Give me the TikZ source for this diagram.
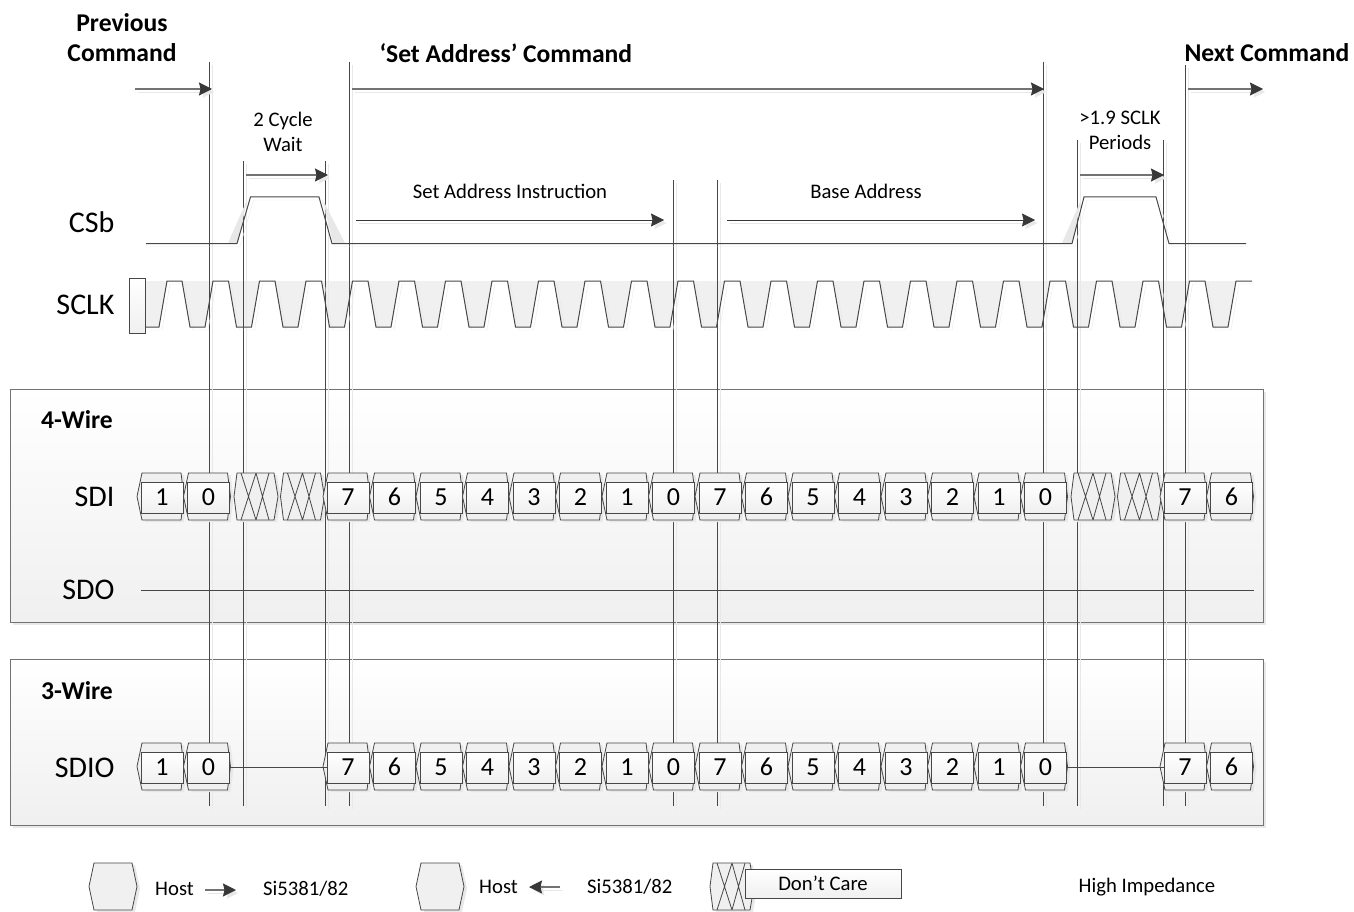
\documentclass[tikz,border=0pt]{standalone}
\usepackage{fontspec}
\usepackage{xcolor}
\usetikzlibrary{arrows.meta}
\setmainfont{Carlito}
\colorlet{lineGray}{black!72}
\colorlet{shadowGray}{black!9}
\colorlet{wellGray}{black!6}

% one data cell: center x, center y, name, text
\newcommand{\bitcell}[4]{
  \path[hexa] ({#1-25},#2) -- ({#1-20},{#2-23.5}) -- ({#1+19},{#2-23.5}) -- ({#1+22},#2)
    -- ({#1+19},{#2+23.5}) -- ({#1-20},{#2+23.5}) -- cycle;
  \node[bitbox] (#3) at (#1,{#2+1}) {#4};
}
% one hatched cell: center x, center y
\newcommand{\xcell}[2]{
  \path[hexa] ({#1-21},#2) -- ({#1-18},{#2-23.5}) -- ({#1+19},{#2-23.5}) -- ({#1+23},#2)
    -- ({#1+19},{#2+23.5}) -- ({#1-18},{#2+23.5}) -- cycle;
  \draw[thin line]
    ({#1-14},{#2-23.5}) -- ({#1+1},{#2+23.5}) ({#1+1},{#2-23.5}) -- ({#1-14},{#2+23.5})
    ({#1+1},{#2-23.5}) -- ({#1+14},{#2+23.5}) ({#1+14},{#2-23.5}) -- ({#1+1},{#2+23.5});
}

\begin{document}
\begin{tikzpicture}[
    x=1pt, y=-1pt,
    thin line/.style={draw=lineGray, line width=0.8pt},
    wave/.style={thin line, line width=1pt,
        preaction={draw=shadowGray, transform canvas={xshift=3pt, yshift=-3pt}}},
    arr/.style={draw=black!55, line width=1.3pt, -{Stealth[length=13pt, width=13pt, inset=1.5pt, black!78]},
        preaction={draw=shadowGray, -{Stealth[length=13pt, width=13pt, inset=1.5pt, shadowGray]},
          transform canvas={xshift=3pt, yshift=-3pt}}},
    arrthin/.style={arr, draw=black!78, line width=0.9pt},
    marker/.style={wave},
    panel/.style={draw=black!55, line width=1pt, top color=white, bottom color=black!6,
        preaction={fill=shadowGray, transform canvas={xshift=3pt, yshift=-3pt}}},
    hexa/.style={draw=lineGray, line width=0.8pt, fill=wellGray,
        preaction={fill=shadowGray, transform canvas={xshift=3pt, yshift=-2pt}}},
    bitbox/.style={rectangle, draw=lineGray, line width=0.8pt, top color=white, bottom color=black!6,
        minimum width=42pt, minimum height=31pt, inner sep=0pt, text height=16pt, text depth=0pt,
        font=\fontsize{26}{26}\selectfont},
    head/.style={font=\fontsize{25.6}{30}\selectfont\bfseries, align=center},
    sig/.style={font=\fontsize{30}{30}\selectfont},
    note/.style={font=\fontsize{20.7}{25}\selectfont, align=center},
  ]
  \useasboundingbox (0,0) rectangle (1354,912);

  % panels
  \path[panel] (10,389) rectangle (1263,622);
  \path[panel] (10,659) rectangle (1263,825);

  % clock wells
  \fill[wellGray] (146,281) -- (146,327) -- (159,327) -- (167,281) -- cycle;
  \foreach \k in {0,...,22}
    \fill[wellGray] ({182+46.5*\k},281) -- ({190+46.5*\k},327) -- ({205+46.5*\k},327) -- ({213+46.5*\k},281) -- cycle;

  % markers
  \foreach \name/\mx/\mtop in {a/209/62, b/243/161, c/325/161, d/349/62, e/673/180, f/717/180, g/1043/62, h/1077/140, i/1163/140, j/1185/65} {
    \coordinate (top\name) at (\mx,\mtop);
    \coordinate (bot\name) at (\mx,806);
    \draw[marker] (top\name) -- (bot\name);
  }

  % CSb
  \fill[shadowGray] (228,243) -- (247,200) -- (238,243) -- cycle;
  \fill[shadowGray] (323,200) -- (345,243) -- (333,243) -- cycle;
  \fill[shadowGray] (1062,243) -- (1081,200) -- (1073,243) -- cycle;
  \draw[wave] (146,243.5) -- (237,243.5) -- (250.5,197) -- (319,197) -- (332,243.5) -- (1072,243.5)
    -- (1084,197) -- (1156,197) -- (1169,243.5) -- (1246,243.5);

  % SCLK
  \node[rectangle, draw=lineGray, line width=0.8pt, top color=white, bottom color=black!6,
    minimum width=16pt, minimum height=55pt, inner sep=0pt] (clkbox) at (137,306) {};
  \draw[wave] (clkbox.east |- 0,327) -- (159,327) -- (167,281)
    \foreach \k in {0,...,22} {
      -- ({182+46.5*\k},281) -- ({190+46.5*\k},327) -- ({205+46.5*\k},327) -- ({213+46.5*\k},281)
    } -- (1252,281);

  % SDO and high impedance lines
  \coordinate (sdoA) at (141,590);
  \coordinate (sdoB) at (1254,590);
  \draw[thin line, line width=1pt] (sdoA) -- (sdoB);

  % data cells
  \foreach \n/\t [count=\i from 0] in {1/1, 0/0, x/x, y/y, 7/7, 6/6, 5/5, 4/4, 3/3, 2/2, 1/1, 0/0, 7/7, 6/6, 5/5, 4/4, 3/3, 2/2, 1/1, 0/0, x/x, y/y, 7/7, 6/6} {
    \pgfmathsetmacro{\cx}{162+46.5*\i}
    \ifnum\i=2 \xcell{\cx}{496.5}
    \else\ifnum\i=3 \xcell{\cx}{496.5}
    \else\ifnum\i=20 \xcell{\cx}{496.5}
    \else\ifnum\i=21 \xcell{\cx}{496.5}
    \else
      \bitcell{\cx}{496.5}{sdi\i}{\t}
      \bitcell{\cx}{766.5}{sdio\i}{\t}
    \fi\fi\fi\fi
  }
  \draw[thin line, line width=1pt] (sdio1.east) -- (sdio4.west);
  \draw[thin line, line width=1pt] (sdio19.east) -- (sdio22.west);

  % arrows
  \coordinate (prevA) at (135,89);   \coordinate (prevB) at (212,89);
  \coordinate (setA) at (352,89);    \coordinate (setB) at (1044,89);
  \coordinate (nextA) at (1188,89);  \coordinate (nextB) at (1263,89);
  \coordinate (waitA) at (246,175);  \coordinate (waitB) at (328,175);
  \coordinate (instA) at (356,220);  \coordinate (instB) at (664,220);
  \coordinate (baseA) at (727,220);  \coordinate (baseB) at (1035,220);
  \coordinate (periA) at (1080,175); \coordinate (periB) at (1164,175);
  \foreach \a/\b in {prevA/prevB, setA/setB, nextA/nextB, waitA/waitB, periA/periB}
    \draw[arr] (\a) -- (\b);
  \foreach \a/\b in {instA/instB, baseA/baseB}
    \draw[arrthin] (\a) -- (\b);

  % labels
  \node[head] (prevlabel) at (122,38) {Previous\\Command};
  \node[head, anchor=west] (setlabel) at (376,53) {‘Set Address’ Command};
  \node[head, anchor=west] (nextlabel) at (1181,53) {Next Command};
  \node[note] (waitlabel) at (283,132) {2 Cycle\\Wait};
  \node[note] (instlabel) at (510,191) {Set Address Instruction};
  \node[note] (baselabel) at (866,191) {Base Address};
  \node[note] (perilabel) at (1120,130) {>1.9 SCLK\\Periods};
  \node[sig, anchor=east] (csblabel) at (118,222) {CSb};
  \node[sig, anchor=east] (sclklabel) at (118,305) {SCLK};
  \node[sig, anchor=east] (sdilabel) at (118,497) {SDI};
  \node[sig, anchor=east] (sdolabel) at (118,590) {SDO};
  \node[sig, anchor=east] (sdiolabel) at (118,768) {SDIO};
  \node[head] (fourlabel) at (77,420) {4-Wire};
  \node[head] (threelabel) at (77,691) {3-Wire};

  % legend
  \path[hexa] (89,886.5) -- (94,863) -- (132,863) -- (137,886.5) -- (132,910) -- (94,910) -- cycle;
  \node[note, anchor=west] (hostA) at (151.7,889) {Host};
  \node[note, anchor=west] (siA) at (259.7,889) {Si5381/82};
  \coordinate (legA) at (205,890);
  \coordinate (legB) at (236,890);
  \draw[arr] (legA) -- (legB);
  \path[hexa] (416,886.5) -- (421,863) -- (459,863) -- (464,886.5) -- (459,910) -- (421,910) -- cycle;
  \node[note, anchor=west] (hostB) at (475.7,887) {Host};
  \node[note, anchor=west] (siB) at (583.7,887) {Si5381/82};
  \coordinate (legC) at (560,887);
  \coordinate (legD) at (529,887);
  \draw[arr] (legC) -- (legD);
  \xcell{731}{886.5}
  \node[rectangle, draw=lineGray, line width=0.8pt, top color=white, bottom color=black!6,
    minimum width=156pt, minimum height=29pt, inner sep=0pt, font=\fontsize{20.7}{24}\selectfont] (carebox) at (823,883.5) {Don’t Care};
  \node[note] (hilabel) at (1147,887) {High Impedance};
\end{tikzpicture}
\end{document}
